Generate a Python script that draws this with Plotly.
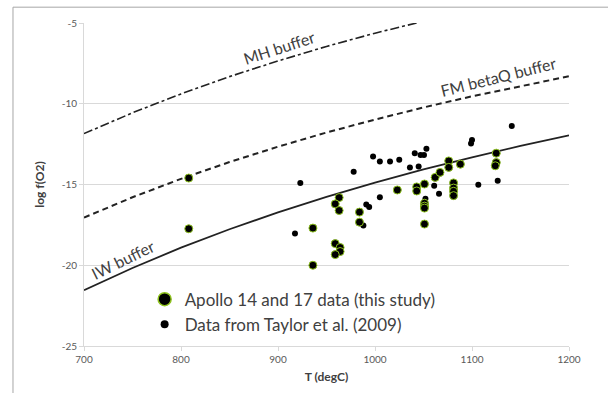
import plotly.graph_objects as go

# Buffer curves
buf_T = [700, 750, 800, 850, 900, 950, 1000, 1050, 1100, 1150, 1200]
mh_logf = [-11.85, -10.56, -9.39, -8.32, -7.35, -6.45, -5.63, -4.87, -4.16, -3.5, -2.9]
fmq_logf = [-17.05, -15.79, -14.65, -13.61, -12.66, -11.78, -10.98, -10.23, -9.54, -8.90, -8.30]
iw_logf = [-21.55, -20.17, -18.91, -17.77, -16.73, -15.77, -14.89, -14.07, -13.32, -12.61, -11.96]

# Apollo 14 and 17 data (this study)
apollo_T = [808, 808, 936, 936, 963, 959, 963, 959, 964, 964, 959, 984, 984, 1023,
            1043, 1043, 1051, 1051, 1051, 1051, 1051, 1062, 1067, 1076, 1076,
            1081, 1081, 1081, 1081, 1088, 1125, 1125, 1124]
apollo_logf = [-14.6, -17.74, -17.7, -20.0, -15.81, -16.2, -16.61, -18.66, -18.9, -19.15, -19.34,
               -16.71, -17.33, -15.34, -15.15, -15.4, -14.97, -16.16, -16.34, -16.46, -17.45,
               -14.56, -14.25, -13.54, -13.94, -14.9, -15.22, -15.42, -15.69, -13.74,
               -13.06, -13.64, -13.84]

# Data from Taylor et al. (2009)
taylor_T = [923, 917.5, 978, 998, 1005, 1015.5, 1025, 1036, 1045, 1041, 1047, 1050.5, 1053,
            1061, 1066, 1005, 991, 994, 988, 1052, 1141, 1100, 1099, 1126.5, 1106.5]
taylor_logf = [-14.91, -18.03, -14.21, -13.27, -13.57, -13.57, -13.47, -13.94, -13.88, -13.06,
               -13.18, -13.18, -12.78, -15.07, -15.58, -15.79, -16.24, -16.4, -17.54, -15.89,
               -11.38, -12.24, -12.46, -14.77, -15.01]

x_ticks = [700, 800, 900, 1000, 1100, 1200]
x_ticktext = ["700", "800", "900", "1000", "1100", "1200"]
y_ticks = [-25, -20, -15, -10, -5]
y_ticktext = ["-25", "-20", "-15", "-10", "-5"]

FONT = "Lato, Carlito, 'Open Sans', sans-serif"
GREEN = "#8fc31f"

fig = go.Figure()

fig.add_trace(go.Scatter(x=buf_T, y=mh_logf, mode="lines", showlegend=False,
                         line=dict(color="#222222", width=1.6, dash="dashdot"), hoverinfo="skip"))
fig.add_trace(go.Scatter(x=buf_T, y=fmq_logf, mode="lines", showlegend=False,
                         line=dict(color="#222222", width=2, dash="6px,4px"), hoverinfo="skip"))
fig.add_trace(go.Scatter(x=buf_T, y=iw_logf, mode="lines", showlegend=False,
                         line=dict(color="#222222", width=1.8), hoverinfo="skip"))

fig.add_trace(go.Scatter(x=taylor_T, y=taylor_logf, mode="markers", showlegend=False,
                         marker=dict(color="black", size=6, line=dict(width=0))))
fig.add_trace(go.Scatter(x=apollo_T, y=apollo_logf, mode="markers", showlegend=False,
                         marker=dict(color="black", size=8, line=dict(color=GREEN, width=1))))

# legend entries
fig.add_trace(go.Scatter(x=[None], y=[None], mode="markers", name="Apollo 14 and 17 data (this study)",
                         marker=dict(color="black", size=13, line=dict(color=GREEN, width=1.5))))
fig.add_trace(go.Scatter(x=[None], y=[None], mode="markers", name="Data from Taylor et al. (2009)",
                         marker=dict(color="black", size=8, line=dict(width=0))))

ann_font = dict(family=FONT, size=16, color="#404040")
fig.add_annotation(x=901, y=-6.5, text="MH buffer", showarrow=False, textangle=-18, font=ann_font)
fig.add_annotation(x=1127, y=-8.3, text="FM betaQ buffer", showarrow=False, textangle=-14, font=ann_font)
fig.add_annotation(x=740, y=-19.65, text="IW buffer", showarrow=False, textangle=-26, font=ann_font)

fig.add_shape(type="rect", xref="paper", yref="paper", x0=-0.1464, x1=1.3, y0=-0.3, y1=1.049,
              line=dict(color="#a6a6a6", width=1), layer="above")

fig.update_layout(
    width=608, height=393,
    margin=dict(l=84, r=39, t=23, b=45),
    paper_bgcolor="white", plot_bgcolor="white",
    font=dict(family=FONT, color="#595959"),
    legend=dict(x=0.125, y=0.105, xanchor="left", yanchor="middle",
                font=dict(family=FONT, size=17, color="#404040"),
                bgcolor="rgba(0,0,0,0)", itemsizing="trace", tracegroupgap=0),
    xaxis=dict(range=[700, 1200], tickvals=x_ticks, ticktext=x_ticktext,
               showgrid=False, showline=True, linecolor="#d9d9d9", linewidth=1,
               ticks="outside", ticklen=4, tickcolor="#d9d9d9", zeroline=False,
               tickfont=dict(size=10, color="#595959"),
               title=dict(text="<b>T (degC)</b>", font=dict(size=12, color="#404040"), standoff=8)),
    yaxis=dict(range=[-25, -5], tickvals=y_ticks, ticktext=y_ticktext,
               showgrid=True, gridcolor="#d9d9d9", gridwidth=1,
               showline=True, linecolor="#d9d9d9", linewidth=1,
               ticks="outside", ticklen=4, tickcolor="#d9d9d9", zeroline=False,
               tickfont=dict(size=10, color="#595959"),
               title=dict(text="<b>log f(O2)</b>", font=dict(size=12, color="#404040"), standoff=14)),
)

fig.write_html("out.html")
